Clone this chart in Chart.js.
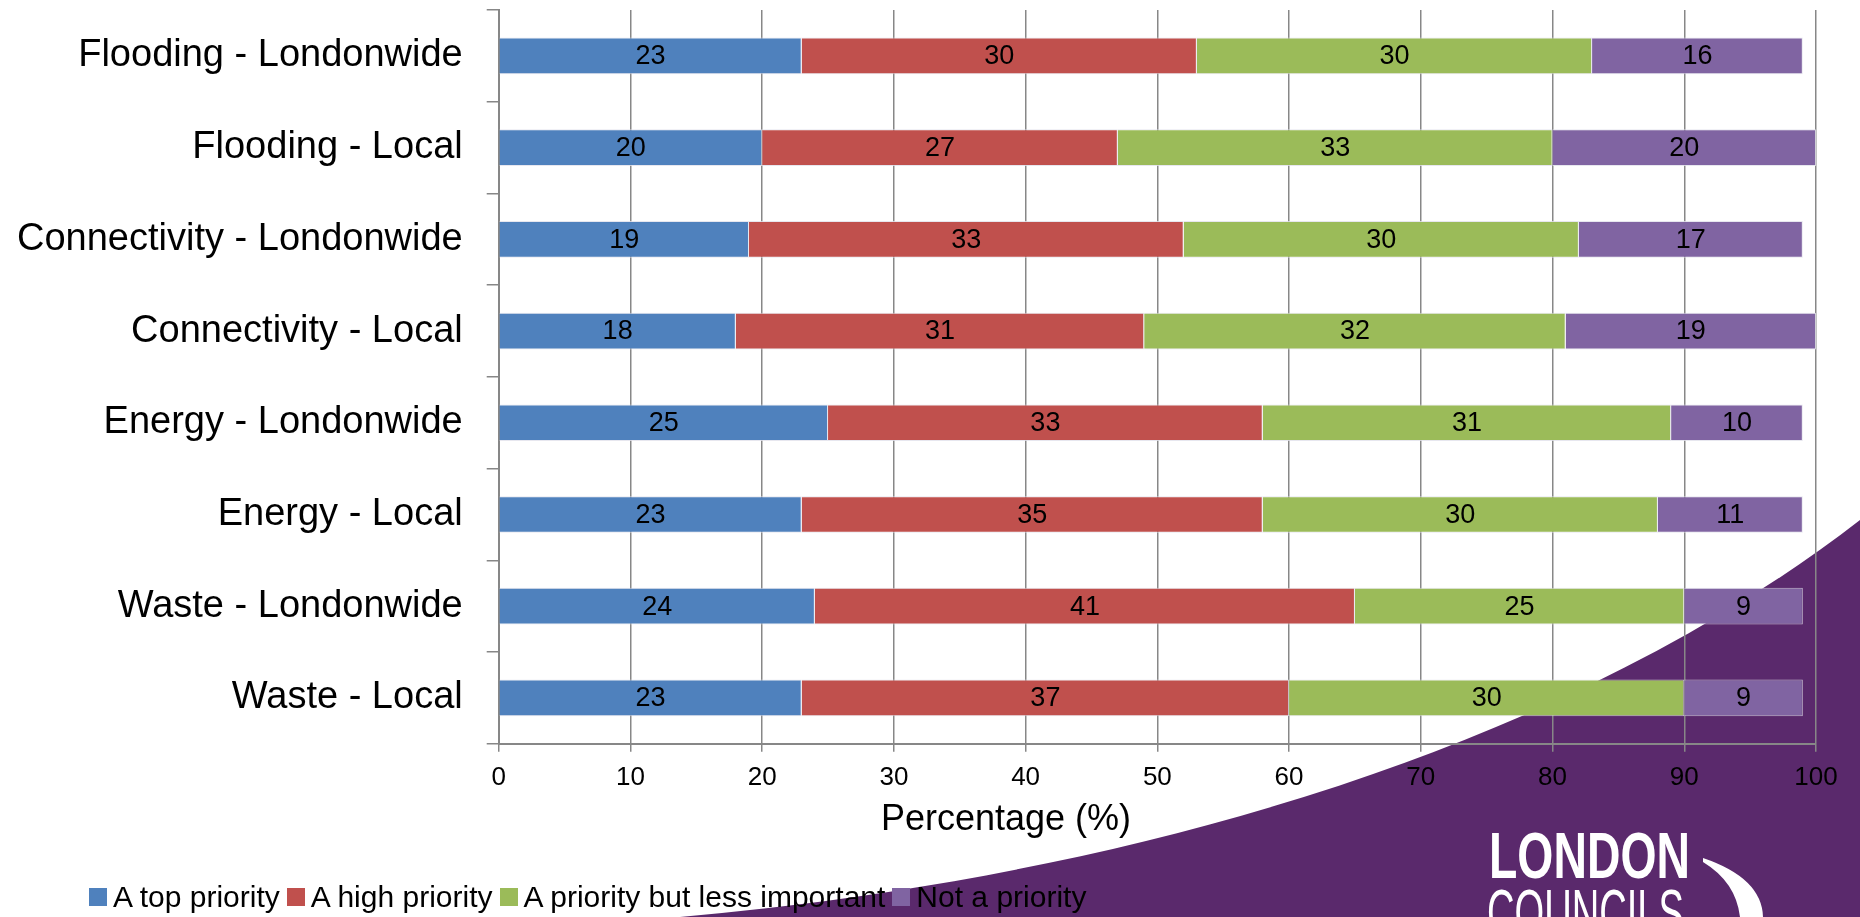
<!DOCTYPE html>
<html>
<head>
<meta charset="utf-8">
<script src="https://cdn.jsdelivr.net/npm/chart.js@4.4.1/dist/chart.umd.min.js"></script>
<style>
    html, body { margin: 0; padding: 0; background: #fff; }
    #wrap { position: relative; width: 1860px; height: 917px; overflow: hidden; font-family: "Liberation Sans", Arial, sans-serif; }
    #bg { position: absolute; left: 0; top: 0; }
    #chart { position: absolute; left: 0; top: 0; }
    #xTitle { position: absolute; top: 797px; left: 1006px; transform: translateX(-50%); font-size: 36px; color: #000; white-space: nowrap; }
    #legend { position: absolute; left: 89px; top: 880px; display: flex; align-items: center; font-size: 30px; color: #000; white-space: nowrap; }
    #legend .item { display: flex; align-items: center; margin-right: 7px; }
    #legend .box { width: 18px; height: 18px; margin-right: 6px; }
</style>
</head>
<body>
<div id="wrap">
    <svg id="bg" width="1860" height="917">
        <path d="M680,917 C1100,880 1550,760 1860,520 L1860,917 Z" fill="#5a296c"/>
        <text x="1489" y="878" fill="#fff" font-family="Liberation Sans Narrow, Liberation Sans" font-weight="bold" font-size="64" textLength="201" lengthAdjust="spacingAndGlyphs">LONDON</text>
        <text x="1487" y="935" fill="#fff" font-family="Liberation Sans Narrow, Liberation Sans" font-size="64" textLength="197" lengthAdjust="spacingAndGlyphs">COUNCILS</text>
        <path d="M1703,858 Q1762,878 1763,917 L1740,917 Q1736,882 1703,862 Z" fill="#fff"/>
    </svg>
    <canvas id="chart" width="1860" height="917"></canvas>
    <div id="xTitle">Percentage (%)</div>
    <div id="legend"></div>
</div>
<script>
// Data
const categories = [
    'Flooding - Londonwide',
    'Flooding - Local',
    'Connectivity - Londonwide',
    'Connectivity - Local',
    'Energy - Londonwide',
    'Energy - Local',
    'Waste - Londonwide',
    'Waste - Local'
];
const seriesNames = ['A top priority', 'A high priority', 'A priority but less important', 'Not a priority'];
const topPriority = [23, 20, 19, 18, 25, 23, 24, 23];
const highPriority = [30, 27, 33, 31, 33, 35, 41, 37];
const lessImportant = [30, 33, 30, 32, 31, 30, 25, 30];
const notPriority = [16, 20, 17, 19, 10, 11, 9, 9];
const seriesColors = ['#4f81bd', '#c0504d', '#9bbb59', '#8064a2'];

const seriesValues = [topPriority, highPriority, lessImportant, notPriority];

// Value labels in the middle of each segment
const barLabels = {
    id: 'barLabels',
    afterDatasetsDraw(chart) {
        const ctx = chart.ctx;
        ctx.save();
        ctx.font = '27px "Liberation Sans", Arial, sans-serif';
        ctx.fillStyle = '#000';
        ctx.textAlign = 'center';
        ctx.textBaseline = 'middle';
        chart.data.datasets.forEach((ds, i) => {
            chart.getDatasetMeta(i).data.forEach((bar, j) => {
                const cx = (bar.x + bar.base) / 2;
                ctx.fillText(ds.data[j], cx, bar.y + 1);
            });
        });
        ctx.restore();
    }
};

const gridColor = '#878787';

new Chart(document.getElementById('chart'), {
    type: 'bar',
    data: {
        labels: categories,
        datasets: seriesNames.map((name, i) => ({
            label: name,
            data: seriesValues[i],
            backgroundColor: seriesColors[i],
            borderColor: 'rgba(225, 225, 235, 0.8)',
            borderWidth: 1,
            categoryPercentage: 1,
            barPercentage: 0.4
        }))
    },
    options: {
        indexAxis: 'y',
        responsive: false,
        animation: false,
        layout: {
            padding: { left: -7, right: 44, top: 10, bottom: 114 }
        },
        plugins: {
            legend: { display: false },
            tooltip: { enabled: false }
        },
        scales: {
            x: {
                stacked: true,
                min: 0,
                max: 100,
                ticks: {
                    stepSize: 10,
                    color: '#000',
                    padding: 10,
                    font: { family: '"Liberation Sans", Arial, sans-serif', size: 26 }
                },
                grid: {
                    color: gridColor,
                    lineWidth: 1.5,
                    tickLength: 8
                },
                border: { color: gridColor, width: 2 }
            },
            y: {
                stacked: true,
                afterFit(scale) {
                    // keep the plot top/bottom where the layout padding puts it
                    scale.paddingTop = 0;
                    scale.paddingBottom = 0;
                },
                ticks: {
                    color: '#000',
                    padding: 24,
                    font: { family: '"Liberation Sans", Arial, sans-serif', size: 38 }
                },
                grid: {
                    offset: true,
                    drawOnChartArea: false,
                    color: gridColor,
                    lineWidth: 1.5,
                    tickLength: 12
                },
                border: { color: gridColor, width: 2 }
            }
        }
    },
    plugins: [barLabels]
});

// Legend under the chart
const legendEl = document.getElementById('legend');
seriesNames.forEach((name, i) => {
    const item = document.createElement('div');
    item.className = 'item';
    const box = document.createElement('span');
    box.className = 'box';
    box.style.background = seriesColors[i];
    const txt = document.createElement('span');
    txt.textContent = name;
    item.appendChild(box);
    item.appendChild(txt);
    legendEl.appendChild(item);
});
</script>
</body>
</html>
